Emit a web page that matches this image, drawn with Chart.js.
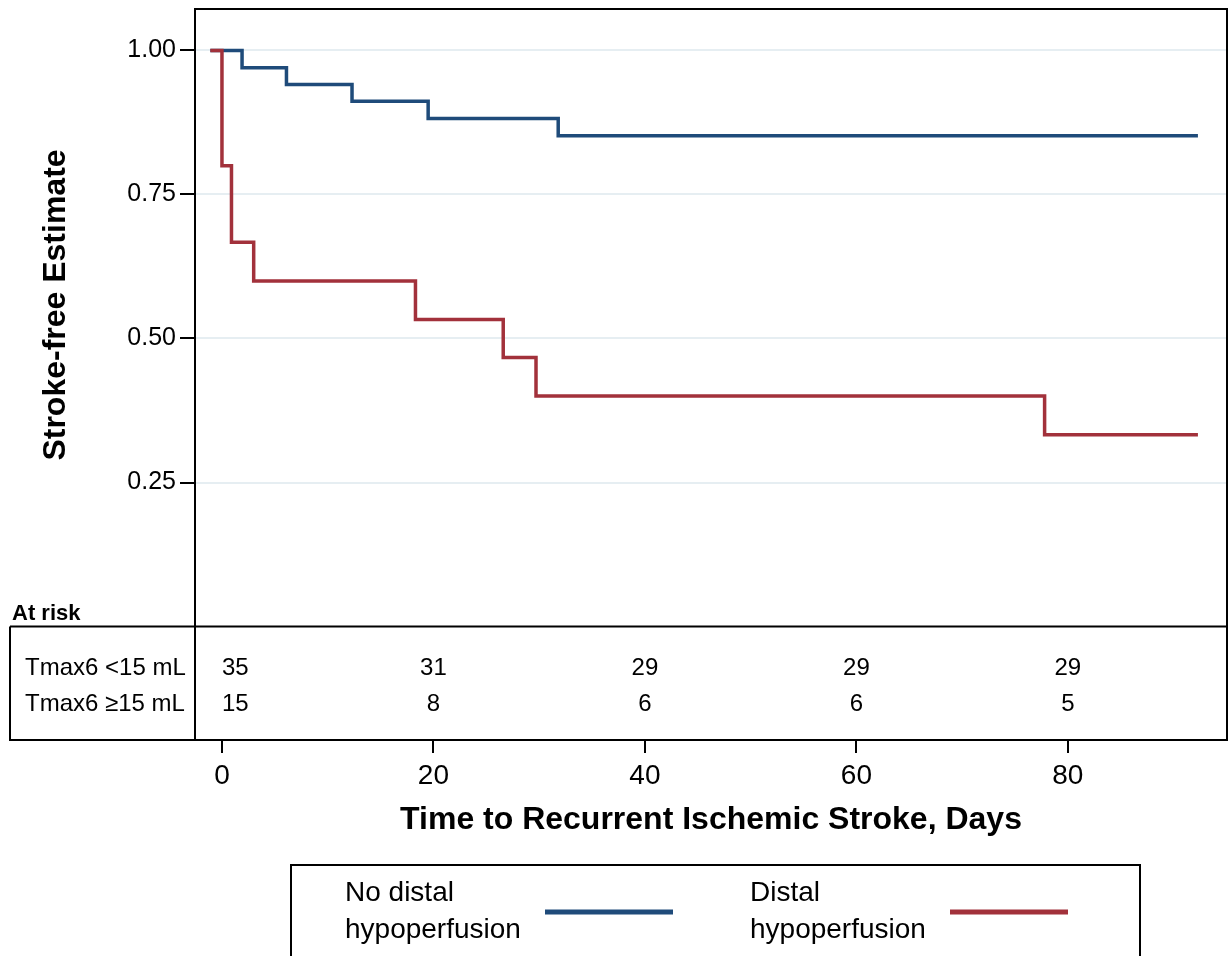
<!DOCTYPE html>
<html>
<head>
<meta charset="utf-8">
<script src="https://cdn.jsdelivr.net/npm/chart.js@4.4.1/dist/chart.umd.min.js"></script>
<style>
  html, body { margin: 0; padding: 0; background: #fff; }
</style>
</head>
<body>
<canvas id="chart" width="1231" height="956"></canvas>
<script>
// survival curves (days, estimate)
const noDistalDays = [-1.1, 1.9, 6.1, 12.3, 19.5, 31.8, 92.3];
const noDistalSurv = [1.0, 0.970, 0.941, 0.912, 0.882, 0.852, 0.852];
const distalDays = [-1.1, 0.0, 0.9, 3.0, 18.3, 26.6, 29.7, 77.8, 92.3];
const distalSurv = [1.0, 0.800, 0.667, 0.600, 0.533, 0.467, 0.400, 0.333, 0.333];

const xTicks = [0, 20, 40, 60, 80];
const yTicks = [0.25, 0.50, 0.75, 1.00];

// at risk table
const riskDays = [0, 20, 40, 60, 80];
const riskNoDistal = [35, 31, 29, 29, 29];
const riskDistal = [15, 8, 6, 6, 5];
const riskRowLabels = ['Tmax6 <15 mL', 'Tmax6 \u226515 mL'];

const seriesNames = [['No distal', 'hypoperfusion'], ['Distal', 'hypoperfusion']];
const blue = '#1f4b7a';
const red = '#a2313b';
const font = '"Liberation Sans", Arial, Helvetica, sans-serif';

function toPoints(xs, ys) {
  return xs.map((d, i) => ({x: d, y: ys[i]}));
}

/* extra drawing: frame, at-risk table, titles, legend */
const extras = {
  id: 'extras',
  afterDraw(chart) {
    const ctx = chart.ctx;
    const a = chart.chartArea;
    const xs = chart.scales.x;
    const ys = chart.scales.y;
    const y0 = ys.getPixelForValue(0);

    ctx.save();
    ctx.strokeStyle = '#000';
    ctx.lineWidth = 2;
    ctx.beginPath();
    ctx.moveTo(a.left, a.top); ctx.lineTo(a.right, a.top); ctx.lineTo(a.right, a.bottom);
    ctx.moveTo(10, y0); ctx.lineTo(a.right, y0);
    ctx.moveTo(10, y0); ctx.lineTo(10, a.bottom); ctx.lineTo(a.left, a.bottom);
    ctx.stroke();

    ctx.fillStyle = '#000';
    ctx.textBaseline = 'middle';
    ctx.textAlign = 'left';
    ctx.font = 'bold 22px ' + font;
    ctx.fillText('At risk', 12, y0 - 13);

    ctx.font = '24px ' + font;
    const rowY = [y0 + 42, y0 + 78];
    ctx.fillText(riskRowLabels[0], 25, rowY[0]);
    ctx.fillText(riskRowLabels[1], 25, rowY[1]);
    riskDays.forEach((d, i) => {
      const px = xs.getPixelForValue(d);
      ctx.textAlign = i == 0 ? 'left' : 'center';
      ctx.fillText(String(riskNoDistal[i]), px, rowY[0]);
      ctx.fillText(String(riskDistal[i]), px, rowY[1]);
    });

    // axis titles
    ctx.font = 'bold 32px ' + font;
    ctx.textAlign = 'center';
    ctx.fillText('Time to Recurrent Ischemic Stroke, Days', (a.left + a.right) / 2, 820);
    ctx.save();
    ctx.translate(56, 305);
    ctx.rotate(-Math.PI / 2);
    ctx.fillText('Stroke-free Estimate', 0, 0);
    ctx.restore();

    // legend
    ctx.lineWidth = 2;
    ctx.strokeRect(291, 865, 849, 140);
    const itemX = [345, 750];
    const sampleLen = [128, 118];
    ctx.font = '28px ' + font;
    ctx.textAlign = 'left';
    chart.data.datasets.forEach((ds, i) => {
      ctx.fillStyle = '#000';
      ctx.fillText(seriesNames[i][0], itemX[i], 893);
      ctx.fillText(seriesNames[i][1], itemX[i], 930);
      ctx.strokeStyle = ds.borderColor;
      ctx.lineWidth = 5;
      ctx.beginPath();
      ctx.moveTo(itemX[i] + 200, 912);
      ctx.lineTo(itemX[i] + 200 + sampleLen[i], 912);
      ctx.stroke();
    });
    ctx.restore();
  }
};

const config = {
  type: 'line',
  data: {
    datasets: [
      {
        label: 'No distal hypoperfusion',
        data: toPoints(noDistalDays, noDistalSurv),
        borderColor: blue,
        borderWidth: 3.5,
        pointRadius: 0,
        stepped: true,
        fill: false,
        order: 2
      },
      {
        label: 'Distal hypoperfusion',
        data: toPoints(distalDays, distalSurv),
        borderColor: red,
        borderWidth: 3.5,
        pointRadius: 0,
        stepped: true,
        fill: false,
        order: 1
      }
    ]
  },
  options: {
    responsive: false,
    devicePixelRatio: 1,
    animation: false,
    layout: { padding: { left: 0, top: 9, right: 4, bottom: 0 } },
    plugins: { legend: { display: false }, tooltip: { enabled: false } },
    scales: {
      x: {
        type: 'linear',
        min: -2.55,
        max: 95.05,
        afterBuildTicks: (s) => { s.ticks = xTicks.map(v => ({value: v})); },
        afterFit: (s) => { s.height = 216; s.paddingLeft = 0; s.paddingRight = 0; },
        grid: { drawOnChartArea: false, drawTicks: true, tickLength: 13, tickColor: '#000', lineWidth: 2 },
        border: { display: true, color: '#000', width: 2 },
        ticks: { color: '#000', font: { size: 28, family: font }, padding: 6, maxRotation: 0 }
      },
      y: {
        type: 'linear',
        min: -0.197,
        max: 1.072,
        afterBuildTicks: (s) => { s.ticks = yTicks.map(v => ({value: v})); },
        afterFit: (s) => { s.width = 195; s.paddingTop = 0; s.paddingBottom = 0; },
        grid: { color: '#e6eef2', lineWidth: 2, tickLength: 15, tickColor: '#000' },
        border: { display: true, color: '#000', width: 2 },
        ticks: {
          color: '#000',
          font: { size: 25, family: font },
          padding: 4,
          callback: (v) => Number(v).toFixed(2)
        }
      }
    }
  },
  plugins: [extras]
};

new Chart(document.getElementById('chart'), config);
</script>
</body>
</html>
